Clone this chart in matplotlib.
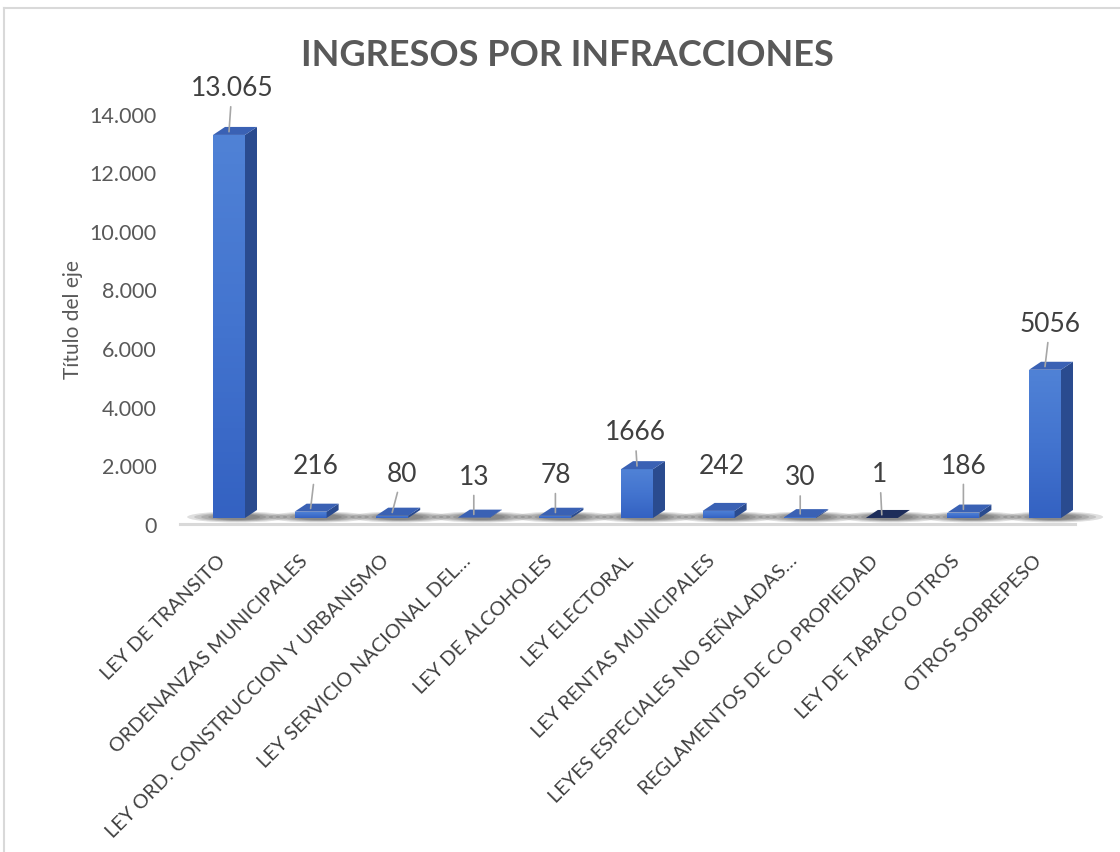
import numpy as np
import matplotlib
matplotlib.use("Agg")
import matplotlib.pyplot as plt
from matplotlib.patches import Polygon, Rectangle, Ellipse
from matplotlib.lines import Line2D
from matplotlib.colors import LinearSegmentedColormap
from matplotlib.transforms import ScaledTranslation

# ==========================================================
# DATOS
# ==========================================================

CATEGORIAS = [
    "LEY DE TRANSITO",
    "ORDENANZAS MUNICIPALES",
    "LEY ORD. CONSTRUCCION Y URBANISMO",
    "LEY SERVICIO NACIONAL DEL…",
    "LEY DE ALCOHOLES",
    "LEY ELECTORAL",
    "LEY RENTAS MUNICIPALES",
    "LEYES ESPECIALES NO SEÑALADAS…",
    "REGLAMENTOS DE CO PROPIEDAD",
    "LEY DE TABACO OTROS",
    "OTROS SOBREPESO",
]

VALORES = [13065, 216, 80, 13, 78, 1666, 242, 30, 1, 186, 5056]

ETIQUETAS = ["13.065", "216", "80", "13", "78", "1666", "242", "30", "1", "186", "5056"]

Y_TICKS = [0, 2000, 4000, 6000, 8000, 10000, 12000, 14000]
Y_TICK_LABELS = ["0", "2.000", "4.000", "6.000", "8.000", "10.000", "12.000", "14.000"]

TITULO = "INGRESOS POR INFRACCIONES"
TITULO_EJE = "Título del eje"

# ==========================================================
# CONFIGURACION
# ==========================================================

W, H, DPI = 1120, 852, 100
PX_X = 81.6       # px por categoria
PX_Y = 0.02932    # px por unidad
X0_PX = 229       # centro de la primera barra
AX_LEFT, AX_RIGHT, AX_BASE = 180, 1085, 518

BAR_W = 32 / PX_X
DEPTH_X = 12 / PX_X
DEPTH_Y = 8 / PX_Y

# desplazamiento de etiquetas (px) y lineas guia
LABEL_DX = [3, 5, 10, 0, 0, -2, 3, 0, -2, 0, 5]
LABEL_DY = [43, 42, 38, 37, 37, 33, 41, 36, 40, 43, 42]
LEADER = [True, True, True, True, True, True, False, True, True, True, True]

GRIS = "#595959"
GRIS_OSC = "#404040"

plt.rcParams["font.family"] = ["Lato", "DejaVu Sans"]

# ==========================================================
# FIGURA
# ==========================================================

fig = plt.figure(figsize=(W / DPI, H / DPI), dpi=DPI, facecolor="white")

ax_top = AX_BASE - max(Y_TICKS) * PX_Y
ax = fig.add_axes([
    AX_LEFT / W,
    1 - AX_BASE / H,
    (AX_RIGHT - AX_LEFT) / W,
    (AX_BASE - ax_top) / H,
])

xmin = (AX_LEFT - X0_PX) / PX_X
xmax = (AX_RIGHT - X0_PX) / PX_X

x = np.arange(len(VALORES))

# ----------------------------------------------------------
# Piso y sombras
# ----------------------------------------------------------
piso_y = -6 / PX_Y
ax.plot([xmin, (1075 - X0_PX) / PX_X], [piso_y, piso_y],
        color="#d9d9d9", lw=2.2, clip_on=False, zorder=1)

for xi in x:
    for wpx, hpx in [(100, 11), (86, 9), (72, 8), (58, 7), (46, 6)]:
        ax.add_patch(Ellipse(
            (xi + 0.1, 1 / PX_Y),
            wpx / PX_X, hpx / PX_Y,
            facecolor="#2a2a2a", edgecolor="none",
            alpha=0.15, clip_on=False, zorder=2,
        ))

# ----------------------------------------------------------
# Barras 3D
# ----------------------------------------------------------
cmap_frente = LinearSegmentedColormap.from_list(
    "frente", ["#3462c2", "#4374cf", "#5082d6"])
grad = np.linspace(0, 1, 64).reshape(-1, 1)

for xi, v in zip(x, VALORES):
    l, r = xi - BAR_W / 2, xi + BAR_W / 2

    frente = Rectangle((l, 0), BAR_W, v, facecolor="none",
                       edgecolor="none", zorder=3)
    ax.add_patch(frente)
    im = ax.imshow(grad, extent=[l, r, 0, max(v, 1)], origin="lower",
                   cmap=cmap_frente, aspect="auto", zorder=3)
    im.set_clip_path(frente)

    lado = Polygon([(r, 0), (r + DEPTH_X, DEPTH_Y),
                    (r + DEPTH_X, v + DEPTH_Y), (r, v)],
                   closed=True, facecolor="#2a4b8f", edgecolor="none",
                   clip_on=False, zorder=3)
    ax.add_patch(lado)

    color_top = "#1d2d5a" if v < 5 else "#3a61b4"
    tapa = Polygon([(l, v), (r, v), (r + DEPTH_X, v + DEPTH_Y),
                    (l + DEPTH_X, v + DEPTH_Y)],
                   closed=True, facecolor=color_top, edgecolor="none",
                   clip_on=False, zorder=4)
    ax.add_patch(tapa)

# ----------------------------------------------------------
# Etiquetas de datos
# ----------------------------------------------------------
for xi, v, lab, dxp, dyp, guia in zip(x, VALORES, ETIQUETAS,
                                      LABEL_DX, LABEL_DY, LEADER):
    ax.annotate(
        lab,
        xy=(xi, v + DEPTH_Y * 0.4),
        xytext=(dxp, dyp),
        textcoords="offset pixels",
        ha="center", va="center",
        fontsize=19, color=GRIS_OSC,
        annotation_clip=False, zorder=6,
        arrowprops=dict(arrowstyle="-", color="#a6a6a6", lw=1.2,
                        shrinkA=2, shrinkB=0) if guia else None,
    )

# ----------------------------------------------------------
# Ejes
# ----------------------------------------------------------
ax.set_xlim(xmin, xmax)
ax.set_ylim(0, max(Y_TICKS))

for s in ax.spines.values():
    s.set_visible(False)

ax.set_yticks(Y_TICKS, Y_TICK_LABELS)
ax.tick_params(axis="y", length=0, pad=17, labelsize=15.5, labelcolor=GRIS)
off = ScaledTranslation(0, -7 / DPI, fig.dpi_scale_trans)
for lbl in ax.get_yticklabels():
    lbl.set_transform(lbl.get_transform() + off)

ax.set_xticks(x)
ax.set_xticklabels(CATEGORIAS, rotation=45, ha="right", va="center",
                   rotation_mode="anchor", fontsize=14.3, color=GRIS_OSC)
ax.tick_params(axis="x", length=0, pad=29)
offx = ScaledTranslation(-6 / DPI, 0, fig.dpi_scale_trans)
for lbl in ax.get_xticklabels():
    lbl.set_transform(lbl.get_transform() + offx)

ax.set_ylabel(TITULO_EJE, fontsize=15, color=GRIS)
ax.yaxis.set_label_coords((83 - AX_LEFT) / (AX_RIGHT - AX_LEFT),
                          (AX_BASE - 320) / (AX_BASE - ax_top))

# ----------------------------------------------------------
# Titulo y marco
# ----------------------------------------------------------
fig.text(567 / W, 1 - 56 / H, TITULO, ha="center", va="center",
         fontsize=26, fontweight="bold", color=GRIS)

fig.add_artist(Line2D([4 / W, 4 / W], [0, 1 - 8 / H],
                      transform=fig.transFigure, color="#d9d9d9", lw=1.5))
fig.add_artist(Line2D([4 / W, 1], [1 - 8 / H, 1 - 8 / H],
                      transform=fig.transFigure, color="#d9d9d9", lw=1.5))

fig.savefig("out.png", dpi=DPI, facecolor="white")
